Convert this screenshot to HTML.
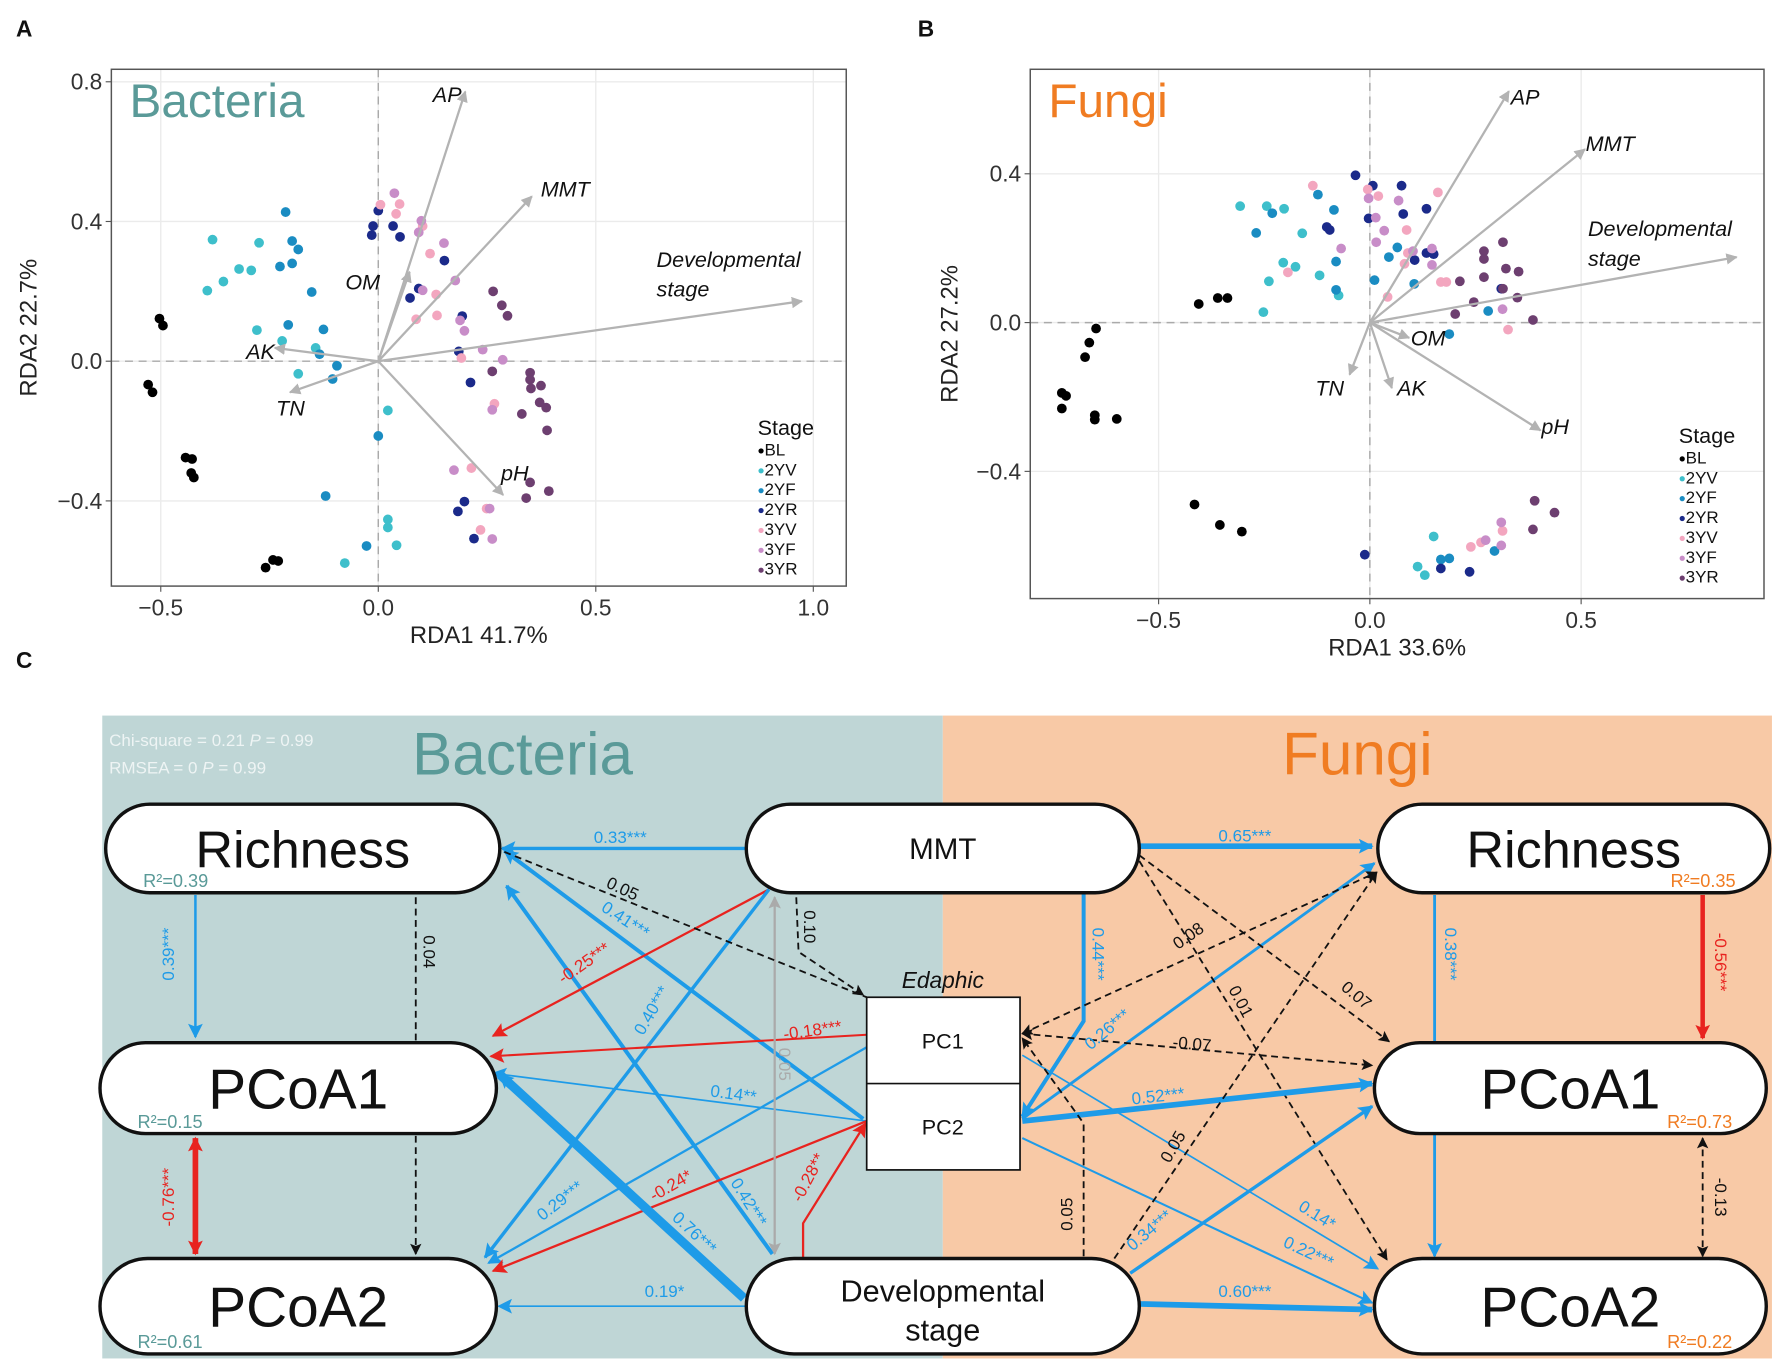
<!DOCTYPE html>
<html><head><meta charset="utf-8">
<style>
html,body{margin:0;padding:0;background:#fff;}
svg{display:block;font-family:"Liberation Sans Narrow","Liberation Sans",sans-serif;}
</style></head>
<body>
<svg id="fig" width="1772" height="1363" viewBox="0 0 1560 1200" xmlns="http://www.w3.org/2000/svg">
<defs>
<marker id="ag" viewBox="0 0 10 10" refX="9" refY="5" markerWidth="5" markerHeight="5" orient="auto-start-reverse"><path d="M0,0 L10,5 L0,10 z" fill="#b3b3b3"/></marker>
<marker id="ab" viewBox="0 0 10 10" refX="9" refY="5" markerWidth="15" markerHeight="13" markerUnits="userSpaceOnUse" orient="auto-start-reverse"><path d="M0,0 L10,5 L0,10 L2,5 z" fill="#1e9be8"/></marker>
<marker id="ar" viewBox="0 0 10 10" refX="9" refY="5" markerWidth="15" markerHeight="13" markerUnits="userSpaceOnUse" orient="auto-start-reverse"><path d="M0,0 L10,5 L0,10 L2,5 z" fill="#e8231f"/></marker>
<marker id="ak" viewBox="0 0 10 10" refX="9" refY="5" markerWidth="11" markerHeight="10" markerUnits="userSpaceOnUse" orient="auto-start-reverse"><path d="M0,0 L10,5 L0,10 L2,5 z" fill="#111"/></marker>
<marker id="agr" viewBox="0 0 10 10" refX="9" refY="5" markerWidth="12" markerHeight="11" markerUnits="userSpaceOnUse" orient="auto-start-reverse"><path d="M0,0 L10,5 L0,10 L2,5 z" fill="#aaa"/></marker>
</defs>
<g id="layer"></g>
</svg>
<script>
// ---------- Panel A data (Bacteria RDA) ----------
const stages = ["BL","2YV","2YF","2YR","3YV","3YF","3YR"];
const stageColors = ["#000000","#3ebfcb","#1a8cc2","#1b2a8a","#f3a6bf","#c88dc8","#6d3f70"];
const bacBL = [[-0.503,0.122],[-0.495,0.102],[-0.529,-0.067],[-0.519,-0.089],[-0.443,-0.276],[-0.428,-0.280],[-0.430,-0.320],[-0.424,-0.333],[-0.259,-0.591],[-0.242,-0.569],[-0.230,-0.572]];
const bac2YV = [[-0.381,0.348],[-0.274,0.339],[-0.320,0.264],[-0.292,0.260],[-0.356,0.228],[-0.393,0.202],[-0.279,0.089],[-0.221,0.058],[-0.144,0.038],[-0.184,-0.036],[0.022,-0.141],[0.022,-0.453],[0.022,-0.476],[0.042,-0.527],[-0.077,-0.578]];
const bac2YF = [[-0.213,0.427],[-0.198,0.344],[-0.184,0.320],[-0.198,0.280],[-0.226,0.271],[-0.153,0.198],[-0.207,0.104],[-0.126,0.091],[-0.135,0.020],[-0.095,-0.013],[-0.105,-0.051],[0.0,-0.214],[-0.121,-0.386],[-0.027,-0.529]];
const bac2YR = [[0.0,0.431],[-0.012,0.387],[-0.015,0.361],[0.034,0.387],[0.050,0.356],[0.152,0.288],[0.073,0.181],[0.093,0.208],[0.193,0.129],[0.185,0.028],[0.212,-0.061],[0.198,-0.402],[0.183,-0.430],[0.220,-0.508]];
const bac3YV = [[0.005,0.448],[0.049,0.450],[0.041,0.422],[0.102,0.387],[0.119,0.308],[0.133,0.191],[0.087,0.120],[0.135,0.131],[0.191,0.009],[0.267,-0.122],[0.214,-0.306],[0.249,-0.422],[0.235,-0.483]];
const bac3YF = [[0.037,0.481],[0.099,0.402],[0.093,0.369],[0.151,0.338],[0.177,0.231],[0.102,0.203],[0.188,0.117],[0.198,0.087],[0.240,0.033],[0.286,0.004],[0.262,-0.139],[0.174,-0.312],[0.256,-0.422],[0.262,-0.509]];
const bac3YR = [[0.264,0.200],[0.284,0.160],[0.297,0.130],[0.262,-0.029],[0.349,-0.033],[0.349,-0.053],[0.374,-0.070],[0.351,-0.078],[0.371,-0.118],[0.386,-0.133],[0.330,-0.151],[0.388,-0.198],[0.349,-0.347],[0.392,-0.372],[0.340,-0.392]];
const bacArrowNames = ["AP","MMT","OM","Developmental stage","AK","TN","pH"];
const bacArrowX = [0.200,0.353,0.072,0.974,-0.238,-0.203,0.287];
const bacArrowY = [0.772,0.472,0.256,0.172,0.038,-0.089,-0.383];
const bacXTicks = [-0.5,0.0,0.5,1.0];
const bacYTicks = [-0.4,0.0,0.4,0.8];

// ---------- Panel B data (Fungi RDA) ----------
const funBL = [[-0.405,0.050],[-0.360,0.066],[-0.337,0.066],[-0.648,-0.016],[-0.664,-0.054],[-0.674,-0.093],[-0.729,-0.189],[-0.719,-0.197],[-0.729,-0.231],[-0.651,-0.249],[-0.651,-0.261],[-0.599,-0.259],[-0.415,-0.489],[-0.355,-0.544],[-0.303,-0.562]];
const fun2YV = [[-0.307,0.313],[-0.244,0.313],[-0.203,0.306],[-0.160,0.240],[-0.252,0.028],[-0.239,0.111],[-0.205,0.161],[-0.176,0.150],[-0.119,0.127],[-0.074,0.073],[0.151,-0.575],[0.113,-0.656],[0.130,-0.679]];
const fun2YF = [[-0.123,0.344],[-0.085,0.303],[-0.231,0.294],[-0.269,0.241],[-0.080,0.164],[-0.080,0.088],[0.011,0.114],[0.045,0.176],[0.065,0.202],[0.105,0.104],[0.280,0.031],[0.188,-0.031],[0.188,-0.634],[0.168,-0.637],[0.295,-0.614]];
const fun2YR = [[-0.034,0.396],[0.007,0.368],[0.075,0.368],[0.134,0.306],[-0.003,0.280],[0.079,0.292],[-0.102,0.257],[-0.095,0.249],[0.134,0.187],[0.151,0.184],[0.106,0.168],[0.311,0.091],[-0.012,-0.624],[0.168,-0.661],[0.236,-0.670]];
const fun3YV = [[-0.135,0.368],[-0.005,0.358],[0.161,0.350],[0.087,0.249],[0.042,0.069],[0.090,0.187],[0.082,0.158],[0.168,0.109],[0.181,0.109],[0.327,-0.019],[0.239,-0.603],[0.263,-0.591],[0.314,-0.560],[-0.194,0.135],[0.020,0.340]];
const fun3YF = [[-0.003,0.334],[0.068,0.328],[0.014,0.282],[0.034,0.247],[0.015,0.216],[-0.068,0.199],[0.102,0.192],[0.147,0.199],[0.147,0.155],[0.311,-0.537],[0.311,-0.599],[0.274,-0.585],[0.314,0.036]];
const fun3YR = [[0.315,0.216],[0.270,0.192],[0.270,0.171],[0.270,0.122],[0.322,0.145],[0.352,0.137],[0.213,0.111],[0.315,0.091],[0.349,0.067],[0.246,0.055],[0.202,0.023],[0.386,0.007],[0.390,-0.479],[0.437,-0.511],[0.386,-0.556]];
const funArrowNames = ["AP","MMT","Developmental stage","OM","TN","AK","pH"];
const funArrowX = [0.329,0.509,0.868,0.093,-0.048,0.052,0.404];
const funArrowY = [0.622,0.466,0.176,-0.041,-0.140,-0.176,-0.290];
const funXTicks = [-0.5,0.0,0.5];
const funYTicks = [-0.4,0.0,0.4];

const NS = "http://www.w3.org/2000/svg";
const layer = document.getElementById("layer");
function mk(tag, attrs, parent){ const e=document.createElementNS(NS,tag); for(const k in attrs) e.setAttribute(k,attrs[k]); (parent||layer).appendChild(e); return e; }
function txt(x,y,s,attrs,parent){ const t=mk("text",Object.assign({x:x,y:y},attrs),parent); t.textContent=s; return t; }

function panel(opt){
  const g = mk("g",{});
  
  
  const sx=v=>opt.x0+v*opt.kx, sy=v=>opt.y0-v*opt.ky;
  const F=opt.frame;
  opt.xt.forEach(v=>{ const l=mk("line",{x1:sx(v),x2:sx(v),y1:F[1],y2:F[3],stroke:"#ebebeb","stroke-width":1.2},g);
      });
  opt.yt.forEach(v=>{ const l=mk("line",{x1:F[0],x2:F[2],y1:sy(v),y2:sy(v),stroke:"#ebebeb","stroke-width":1.2},g);
      });
  mk("line",{x1:sx(0),x2:sx(0),y1:F[1],y2:F[3],stroke:"#aaa","stroke-width":1.3,"stroke-dasharray":"7,5"},g);
  mk("line",{x1:F[0],x2:F[2],y1:sy(0),y2:sy(0),stroke:"#aaa","stroke-width":1.3,"stroke-dasharray":"7,5"},g);
  opt.groups.forEach((pts,i)=>{
    pts.forEach(p=>{
      const c=mk("circle",{cx:sx(p[0]),cy:sy(p[1]),r:4.3,fill:stageColors[i]},g);
      
      
    });
  });
  opt.an.forEach((n,i)=>{
    const a=mk("line",{x1:sx(0),y1:sy(0),x2:sx(opt.ax[i]),y2:sy(opt.ay[i]),stroke:"#b3b3b3","stroke-width":2,"marker-end":"url(#ag)"},g);
    
    
  });
  opt.alabels.forEach(L=>{
    L.t.forEach((s,j)=>{ const t=txt(L.x,L.y+j*26,s,{"font-size":19,"font-style":"italic",fill:"#111","text-anchor":L.a||"start"},g);
        });
  });
  const fr=mk("rect",{x:F[0],y:F[1],width:F[2]-F[0],height:F[3]-F[1],fill:"none",stroke:"#555","stroke-width":1.3},g);
   
  opt.xt.forEach(v=>{ mk("line",{x1:sx(v),x2:sx(v),y1:F[3],y2:F[3]+5,stroke:"#555"},g);
    const t=txt(sx(v),F[3]+26,v.toFixed(1).replace('-','\u2212'),{"font-size":20,fill:"#333","text-anchor":"middle"},g);
      });
  opt.yt.forEach(v=>{ mk("line",{x1:F[0]-5,x2:F[0],y1:sy(v),y2:sy(v),stroke:"#555"},g);
    const t=txt(F[0]-8,sy(v)+7,v.toFixed(1).replace('-','\u2212'),{"font-size":20,fill:"#333","text-anchor":"end"},g);
      });
  const xt=txt((F[0]+F[2])/2,F[3]+50,opt.xl,{"font-size":21,fill:"#222","text-anchor":"middle"},g);
   
  const yc=(F[1]+F[3])/2;
  const yt=txt(opt.ylx,yc,opt.yl,{"font-size":21,fill:"#222","text-anchor":"middle",transform:`rotate(-90 ${opt.ylx} ${yc})`},g);
   
  const tt=txt(F[0]+16,F[1]+42,opt.title,{"font-size":42,fill:opt.tc},g);
   
  const lt=txt(opt.lg[0],opt.lg[1],"Stage",{"font-size":19,fill:"#111"},g);
   
  stages.forEach((s,i)=>{
    const y=opt.lg[1]+18+i*17.5;
    const c=mk("circle",{cx:opt.lg[0]+3,cy:y-4,r:2.3,fill:stageColors[i]},g);
     
    const t=txt(opt.lg[0]+6,y,s,{"font-size":15,fill:"#111"},g);
     
  });
}

panel({name:"panel-a-bacteria-rda",x0:333,kx:383,y0:318,ky:307.5,frame:[98,61,745,516],
  groups:[bacBL,bac2YV,bac2YF,bac2YR,bac3YV,bac3YF,bac3YR],an:bacArrowNames,ax:bacArrowX,ay:bacArrowY,
  xt:bacXTicks,yt:bacYTicks,xl:"RDA1 41.7%",yl:"RDA2 22.7%",ylx:32,title:"Bacteria",tc:"#5a9a98",lg:[667,383],
  alabels:[{x:381,y:90,t:["AP"]},{x:476,y:173,t:["MMT"]},{x:304,y:255,t:["OM"]},{x:578,y:235,t:["Developmental","stage"]},{x:242,y:316,t:["AK"],a:"end"},{x:243,y:366,t:["TN"]},{x:441,y:423,t:["pH"]}]});
panel({name:"panel-b-fungi-rda",x0:1206,kx:372,y0:284,ky:327.5,frame:[907,61,1553,527],
  groups:[funBL,fun2YV,fun2YF,fun2YR,fun3YV,fun3YF,fun3YR],an:funArrowNames,ax:funArrowX,ay:funArrowY,
  xt:funXTicks,yt:funYTicks,xl:"RDA1 33.6%",yl:"RDA2 27.2%",ylx:843,title:"Fungi",tc:"#f07c22",lg:[1478,390],
  alabels:[{x:1330,y:92,t:["AP"]},{x:1396,y:133,t:["MMT"]},{x:1398,y:208,t:["Developmental","stage"]},{x:1242,y:304,t:["OM"]},{x:1158,y:348,t:["TN"]},{x:1230,y:348,t:["AK"]},{x:1357,y:382,t:["pH"]}]});

[["A",14,32],["B",808,32],["C",14,588]].forEach(a=>{ const t=txt(a[1],a[2],a[0],{"font-size":20,"font-weight":"bold",fill:"#111",style:"font-family:'Liberation Sans',sans-serif"});
    });

// ---------- Panel C : SEM diagram ----------
const C = mk("g",{});


let r=mk("rect",{x:90,y:630,width:740,height:566,fill:"#bfd6d6"},C);  
r=mk("rect",{x:830,y:630,width:730,height:566,fill:"#f8c9a6"},C);  
let t=txt(96,657,"Chi-square = 0.21 ",{"font-size":15,fill:"#eef4f4"},C); const ts=mk("tspan",{"font-style":"italic"},t); ts.textContent="P"; const ts2=mk("tspan",{},t); ts2.textContent=" = 0.99";
 
t=txt(96,681,"RMSEA = 0 ",{"font-size":15,fill:"#eef4f4"},C); const ts3=mk("tspan",{"font-style":"italic"},t); ts3.textContent="P"; const ts4=mk("tspan",{},t); ts4.textContent=" = 0.99";
 
t=txt(460,682,"Bacteria",{"font-size":53,fill:"#5a9a98","text-anchor":"middle"},C);  
t=txt(1195,682,"Fungi",{"font-size":53,fill:"#f07c22","text-anchor":"middle"},C);  

const BL="#1e9be8", RD="#e8231f", BK="#111", GR="#aaa";
const edges = [
 [[[657,747],[442,747]],BL,3,0,0,1],
 [[[680,1104],[446,780]],BL,3.5,0,0,1],
 [[[760,985],[444,749]],BL,3.5,0,0,1],
 [[[677,783],[434,912]],RD,2,0,0,1],
 [[[677,783],[427,1107]],BL,3,0,0,1],
 [[[763,911],[432,930]],RD,1.8,0,0,1],
 [[[763,987],[434,945]],BL,1.5,0,0,1],
 [[[763,922],[430,1112]],BL,2,0,0,1],
 [[[763,987],[434,1119]],RD,2,0,0,1],
 [[[655,1143],[440,946]],BL,8,0,0,1],
 [[[657,1150],[439,1150]],BL,1.5,0,0,1],
 [[[707,1108],[707,1077],[762,989]],RD,2,0,0,1],
 [[[682,790],[682,1104]],GR,2,0,1,1],
 [[[701,790],[703,838],[760,876]],BK,1.6,1,0,1],
 [[[444,750],[763,878]],BK,1.6,1,0,0],
 [[[366,790],[366,1104]],BK,1.6,1,0,1],
 [[[172,788],[172,913]],BL,2.2,0,0,1],
 [[[172,1002],[172,1104]],RD,5,0,1,1],
 [[[1003,745],[1208,745]],BL,5,0,0,1],
 [[[954,787],[954,899],[900,983]],BL,3.5,0,0,1],
 [[[900,985],[1210,760]],BL,2.5,0,0,1],
 [[[900,910],[1212,768]],BK,1.6,1,1,1],
 [[[1003,753],[1223,917]],BK,1.6,1,0,1],
 [[[1003,758],[1221,1109]],BK,1.6,1,0,1],
 [[[900,910],[1208,938]],BK,1.6,1,1,1],
 [[[900,987],[1208,954]],BL,5,0,0,1],
 [[[900,929],[1213,1117]],BL,1.5,0,0,1],
 [[[900,1002],[1208,1147]],BL,1.8,0,0,1],
 [[[1003,1148],[1208,1153]],BL,5,0,0,1],
 [[[995,1121],[1208,974]],BL,3,0,0,1],
 [[[981,1108],[1212,768]],BK,1.6,1,0,1],
 [[[954,1106],[954,989],[900,914]],BK,1.6,1,0,1],
 [[[1263,788],[1263,1106]],BL,2.5,0,0,1],
 [[[1499,788],[1499,914]],RD,4,0,0,1],
 [[[1499,1002],[1499,1106]],BK,1.6,1,1,1]
];
const mkr = c => c===BL?"url(#ab)":c===RD?"url(#ar)":c===GR?"url(#agr)":"url(#ak)";
edges.forEach(e=>{
  const d=e[0].map((p,i)=>(i?"L":"M")+p[0]+","+p[1]).join(" ");
  const a={d:d,fill:"none",stroke:e[1],"stroke-width":e[2]};
  if(e[3]) a["stroke-dasharray"]="6,4";
  if(e[4]) a["marker-start"]=mkr(e[1]);
  if(e[5]) a["marker-end"]=mkr(e[1]);
  const p=mk("path",a,C);
  
  
});

const nodes = [
 ["bacteria-richness-node",93,708,347,78,"Richness",46,"R\u00b2=0.39","#5a9a98","l"],
 ["bacteria-pcoa1-node",88,918,349,80,"PCoA1",50,"R\u00b2=0.15","#5a9a98","l"],
 ["bacteria-pcoa2-node",88,1108,349,84,"PCoA2",50,"R\u00b2=0.61","#5a9a98","l"],
 ["mmt-node",657,708,346,78,"MMT",26,"",null,""],
 ["developmental-stage-node",657,1108,346,84,"",27,"",null,""],
 ["fungi-richness-node",1213,708,345,78,"Richness",46,"R\u00b2=0.35","#f07c22","r"],
 ["fungi-pcoa1-node",1210,918,345,80,"PCoA1",50,"R\u00b2=0.73","#f07c22","r"],
 ["fungi-pcoa2-node",1210,1108,345,84,"PCoA2",50,"R\u00b2=0.22","#f07c22","r"]
];
nodes.forEach(n=>{
  const g=mk("g",{},C);
  
  
  mk("rect",{x:n[1],y:n[2],width:n[3],height:n[4],rx:n[4]/2,ry:n[4]/2,fill:"#fff",stroke:"#111","stroke-width":3},g);
  const cx=n[1]+n[3]/2, cy=n[2]+n[4]/2;
  if(n[5]) txt(cx,cy+n[6]*0.36,n[5],{"font-size":n[6],fill:"#111","text-anchor":"middle"},g);
  else { txt(cx,cy-4,"Developmental",{"font-size":27,fill:"#111","text-anchor":"middle"},g); txt(cx,cy+30,"stage",{"font-size":27,fill:"#111","text-anchor":"middle"},g); }
  if(n[7]){ const x=n[9]==="l"? n[1]+33 : n[1]+n[3]-30; txt(x,n[2]+n[4]-5,n[7],{"font-size":16,fill:n[8],"text-anchor":n[9]==="l"?"start":"end"},g); }
});
const eg=mk("g",{},C);


mk("rect",{x:763,y:878,width:135,height:152,fill:"#fff",stroke:"#111","stroke-width":1.5},eg);
mk("line",{x1:763,x2:898,y1:954,y2:954,stroke:"#111","stroke-width":1.5},eg);
txt(830,923,"PC1",{"font-size":19,fill:"#111","text-anchor":"middle"},eg);
txt(830,999,"PC2",{"font-size":19,fill:"#111","text-anchor":"middle"},eg);
txt(830,870,"Edaphic",{"font-size":20,"font-style":"italic",fill:"#111","text-anchor":"middle"},C);

const coefs = [
 [546,742,"0.33***",BL,0],[546,787,"0.05",BK,25],[548,814,"0.41***",BL,33],[517,852,"-0.25***",RD,-35],
 [373,838,"0.04",BK,90],[153,840,"0.39***",BL,-90],[708,816,"0.10",BK,90],[716,912,"-0.18***",RD,-8],
 [578,892,"0.40***",BL,-60],[686,937,"0.05",GR,90],[645,968,"0.14**",BL,8],[496,1061,"0.29***",BL,-38],
 [593,1048,"-0.24*",RD,-30],[655,1061,"0.42***",BL,58],[608,1089,"0.76***",BL,43],[716,1039,"-0.28**",RD,-62],
 [153,1054,"-0.76***",RD,-90],[585,1142,"0.19*",BL,0],
 [1096,741,"0.65***",BL,0],[962,840,"0.44***",BL,90],[1049,828,"0.08",BK,-35],[978,910,"0.26***",BL,-40],
 [1049,924,"-0.07",BK,5],[1088,884,"0.01",BK,62],[1191,880,"0.07",BK,40],[1020,970,"0.52***",BL,-6],
 [1037,1012,"0.05",BK,-60],[944,1069,"0.05",BK,-90],[1015,1087,"0.34***",BL,-40],[1157,1074,"0.14*",BL,32],
 [1150,1107,"0.22***",BL,25],[1096,1142,"0.60***",BL,0],[1272,840,"0.38***",BL,90],[1510,847,"-0.56***",RD,90],
 [1510,1054,"-0.13",BK,90]
];
coefs.forEach(c=>{
  const el=txt(c[0],c[1],c[2],{"font-size":15,fill:c[3],"text-anchor":"middle",transform:`rotate(${c[4]} ${c[0]} ${c[1]})`},C);
  
  
});
</script>
</body></html>
